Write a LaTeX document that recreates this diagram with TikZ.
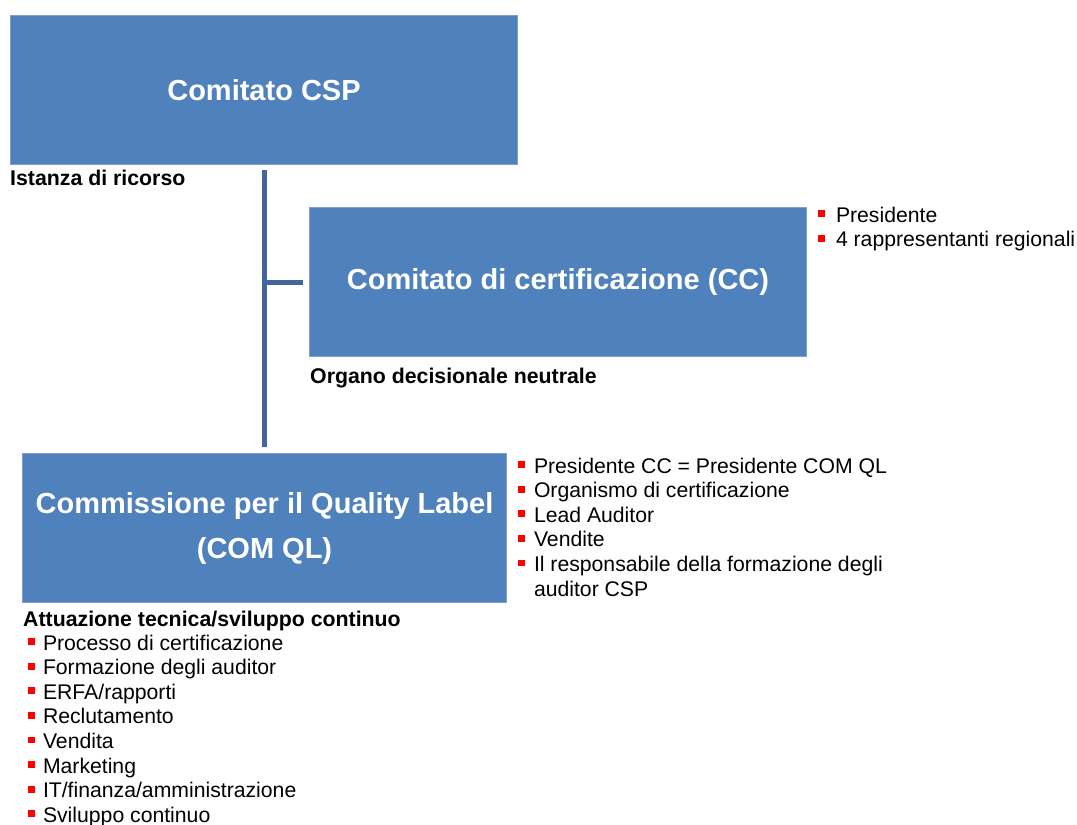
\documentclass[tikz,border=0pt]{standalone}
\usepackage{fontspec}
\setmainfont{Liberation Sans}
\usetikzlibrary{positioning}

\newcommand{\sqb}{\textcolor{mylistred}{\rule[5pt]{6.8pt}{6.8pt}}}

\begin{document}
\begin{tikzpicture}[x = 1pt, y = -1pt,
    orgbox/.style = {draw = myedgeblue, line width = 1pt, fill = myblue, rectangle, minimum height = 149pt, anchor = north west, inner sep = 0pt, text = white, align = center, font = \fontsize{29}{45}\selectfont\bfseries},
    caption/.style = {anchor = base west, inner sep = 0pt, font = \fontsize{21.3}{24.6}\selectfont\bfseries},
    bullets/.style = {anchor = base west, inner sep = 0pt, font = \fontsize{21.2}{24.6}\selectfont},
    link/.style = {draw = mylinkblue, line width = 5pt}]
        \useasboundingbox (0, 0) rectangle (1077, 825);
        \definecolor{myblue}{RGB}{79,129,189}
        \definecolor{myedgeblue}{RGB}{126,160,206}
        \definecolor{mylinkblue}{RGB}{65,103,154}
        \definecolor{mylistred}{RGB}{255,0,0}

        \node[orgbox, minimum width = 507pt] at (10, 15) (csp) {Comitato CSP};
        \node[caption] at ([yshift = -20pt] csp.south west) (ricorso) {Istanza di ricorso};

        \node[orgbox, minimum width = 497pt] at (309, 207) (cc) {Comitato di certificazione (CC)};
        \node[caption] at ([xshift = 1pt, yshift = -26pt] cc.south west) (neutrale) {Organo decisionale neutrale};
        \node[bullets] at ([xshift = 11pt, yshift = -15pt] cc.north east) (ccmembri) {\begin{tabular}[t]{@{}l@{\hspace{11pt}}l@{}}
            \sqb & Presidente \\
            \sqb & 4 rappresentanti regionali
          \end{tabular}};

        \node[orgbox, minimum width = 484pt] at (22, 453) (comql) {Commissione per il Quality Label\\(COM QL)};
        \node[bullets] at ([xshift = 11pt, yshift = -20pt] comql.north east) (comqlmembri) {\begin{tabular}[t]{@{}l@{\hspace{9pt}}l@{}}
            \sqb & Presidente CC = Presidente COM QL \\
            \sqb & Organismo di certificazione \\
            \sqb & Lead Auditor \\
            \sqb & Vendite \\
            \sqb & Il responsabile della formazione degli \\
                 & auditor CSP
          \end{tabular}};

        \node[caption] at ([xshift = 1pt, yshift = -23pt] comql.south west) (attuazione) {Attuazione tecnica/sviluppo continuo};
        \node[bullets] at ([xshift = 5pt, yshift = -24pt] attuazione.base west) (attivita) {\begin{tabular}[t]{@{}l@{\hspace{8pt}}l@{}}
            \sqb & Processo di certificazione \\
            \sqb & Formazione degli auditor \\
            \sqb & ERFA/rapporti \\
            \sqb & Reclutamento \\
            \sqb & Vendita \\
            \sqb & Marketing \\
            \sqb & IT/finanza/amministrazione \\
            \sqb & Sviluppo continuo
          \end{tabular}};

        % tree lines
        \path[link, shorten <= 5pt, shorten >= 6pt] (csp.south) -- (csp.south |- comql.north);
        \path[link, shorten >= 6pt] (csp.south |- cc.west) -- (cc.west);
\end{tikzpicture}
\end{document}
